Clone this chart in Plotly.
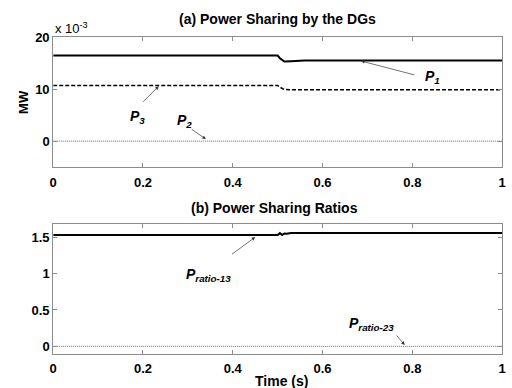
import plotly.graph_objects as go

# ---- data ----
# (a) power of DGs, in units of 1e-3 MW
t_p1 = [0.0, 0.50, 0.505, 0.515, 0.53, 0.56, 1.0]
p1 = [16.5, 16.5, 16.0, 15.35, 15.4, 15.55, 15.55]
t_p3 = [0.0, 0.50, 0.505, 0.515, 0.53, 1.0]
p3 = [10.75, 10.75, 10.4, 9.95, 9.9, 9.9]
t_p2 = [0.0, 1.0]
p2 = [0.0, 0.0]
# (b) power sharing ratios
t_r13 = [0.0, 0.50, 0.505, 0.51, 0.515, 0.52, 0.53, 1.0]
r13 = [1.53, 1.53, 1.555, 1.53, 1.55, 1.545, 1.555, 1.555]
t_r23 = [0.0, 1.0]
r23 = [0.0, 0.0]

x_ticks = [0, 0.2, 0.4, 0.6, 0.8, 1]
x_ticklabels = ["0", "0.2", "0.4", "0.6", "0.8", "1"]
y1_ticks = [0, 10, 20]
y2_ticks = [0, 0.5, 1, 1.5]
y2_ticklabels = ["0", "0.5", "1", "1.5"]

W, H = 512, 388
def px(x):
    return x / W
def py(y):
    return 1 - y / H

fig = go.Figure()
fig.add_trace(go.Scatter(x=t_p1, y=p1, mode="lines", line=dict(color="black", width=2), xaxis="x", yaxis="y"))
fig.add_trace(go.Scatter(x=t_p3, y=p3, mode="lines", line=dict(color="black", width=1.5, dash="4px,2px"), xaxis="x", yaxis="y"))
fig.add_trace(go.Scatter(x=t_p2, y=p2, mode="lines", line=dict(color="#666666", width=1, dash="1px,1px"), xaxis="x", yaxis="y"))
fig.add_trace(go.Scatter(x=t_r13, y=r13, mode="lines", line=dict(color="black", width=2), xaxis="x2", yaxis="y2"))
fig.add_trace(go.Scatter(x=t_r23, y=r23, mode="lines", line=dict(color="#666666", width=1, dash="1px,1px"), xaxis="x2", yaxis="y2"))

tickfont = dict(family="Liberation Sans", size=13, color="black")
axis_common = dict(showgrid=False, zeroline=False, showline=True, linecolor="#8c8c8c", linewidth=1,
                   mirror="allticks", ticks="inside", ticklen=4, tickcolor="#8c8c8c", tickwidth=1,
                   tickfont=tickfont)

fig.update_layout(
    width=W, height=H, margin=dict(l=0, r=0, t=0, b=0),
    paper_bgcolor="white", plot_bgcolor="white", showlegend=False,
    xaxis=dict(domain=[px(50), px(506)], range=[0, 1], anchor="y",
               tickvals=x_ticks, ticktext=["<b>%s</b>" % s for s in x_ticklabels], ticklabelstandoff=3, **axis_common),
    yaxis=dict(domain=[py(163), py(31)], range=[-5, 20], anchor="x",
               tickvals=y1_ticks, ticktext=["<b>%d</b>" % v for v in y1_ticks], **axis_common),
    xaxis2=dict(domain=[px(50), px(506)], range=[0, 1], anchor="y2",
                tickvals=x_ticks, ticktext=["<b>%s</b>" % s for s in x_ticklabels], ticklabelstandoff=3, **axis_common),
    yaxis2=dict(domain=[py(353), py(221)], range=[-0.1, 1.68], anchor="x2",
                tickvals=y2_ticks, ticktext=["<b>%s</b>" % s for s in y2_ticklabels], **axis_common),
)

lab = dict(family="Liberation Sans", size=14, color="black")
ann = []
ann.append(dict(text="<b>(a) Power Sharing by the DGs</b>", x=px(278), y=py(12), xref="paper", yref="paper",
                showarrow=False, font=lab, xanchor="center", yanchor="middle"))
ann.append(dict(text="<b>(b) Power Sharing Ratios</b>", x=px(275), y=py(205), xref="paper", yref="paper",
                showarrow=False, font=lab, xanchor="center", yanchor="middle"))
ann.append(dict(text="<b>Time (s)</b>", x=px(282), y=py(381), xref="paper", yref="paper",
                showarrow=False, font=lab, xanchor="center", yanchor="middle"))
ann.append(dict(text="<b>MW</b>", x=px(20), y=py(97), xref="paper", yref="paper", textangle=-90,
                showarrow=False, font=dict(family="Liberation Sans", size=13, color="black"),
                xanchor="center", yanchor="middle"))
ann.append(dict(text="x 10<sup>-3</sup>", x=px(50), y=py(21), xref="paper", yref="paper",
                showarrow=False, font=dict(family="Liberation Sans", size=13, color="black"),
                xanchor="left", yanchor="middle"))

pfont = dict(family="Liberation Sans", size=14, color="black")
def label(text, x, y, xr, yr):
    ann.append(dict(text="<b><i>%s</i></b>" % text, x=x, y=y, xref=xr, yref=yr, showarrow=False,
                    font=pfont, xanchor="center", yanchor="middle"))
def arrow(x0, y0, x1, y1, xr, yr):
    ann.append(dict(text="", x=x1, y=y1, ax=x0, ay=y0, xref=xr, yref=yr, axref=xr, ayref=yr,
                    showarrow=True, arrowhead=2, arrowsize=1, arrowwidth=0.7, arrowcolor="#333333", standoff=0))

label("P<sub>1</sub>", 0.845, 12.4, "x", "y")
arrow(0.808, 12.7, 0.686, 15.45, "x", "y")
label("P<sub>3</sub>", 0.187, 4.6, "x", "y")
arrow(0.197, 7.3, 0.235, 10.6, "x", "y")
label("P<sub>2</sub>", 0.293, 3.9, "x", "y")
arrow(0.305, 2.5, 0.34, 0.4, "x", "y")
label("P<sub>ratio-13</sub>", 0.345, 0.98, "x2", "y2")
arrow(0.395, 1.25, 0.45, 1.5, "x2", "y2")
label("P<sub>ratio-23</sub>", 0.71, 0.31, "x2", "y2")
arrow(0.762, 0.17, 0.783, 0.02, "x2", "y2")

fig.update_layout(annotations=ann)
fig.write_html("out.html", config={"displayModeBar": False},
               post_script="document.body.style.margin='0';document.body.style.padding='0';")
